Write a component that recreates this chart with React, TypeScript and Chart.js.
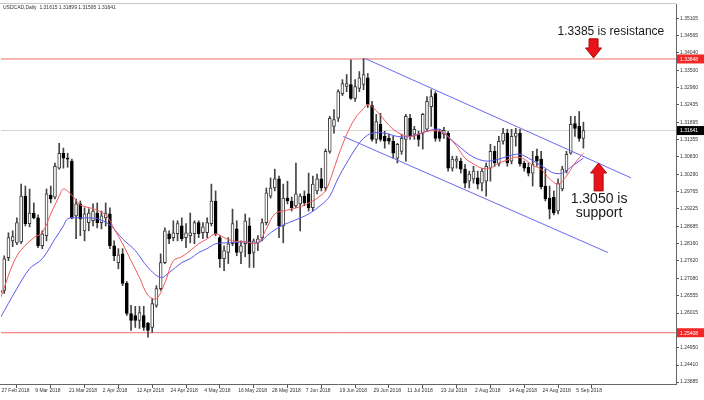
import React, { useEffect, useRef } from "react";
import { Chart, registerables } from "chart.js";
Chart.register(...registerables);

// ---------- data ----------
const xLabelBars = [0, 8, 16, 24, 32, 40, 48, 56, 64, 72, 80, 88, 96, 104, 112, 120, 128, 136];
const xLabels = [
  "27 Feb 2018", "9 Mar 2018", "21 Mar 2018", "2 Apr 2018", "12 Apr 2018", "24 Apr 2018",
  "4 May 2018", "16 May 2018", "28 May 2018", "7 Jun 2018", "19 Jun 2018", "29 Jun 2018",
  "11 Jul 2018", "23 Jul 2018", "2 Aug 2018", "14 Aug 2018", "24 Aug 2018", "5 Sep 2018",
];
const yTicks = [
  1.35105, 1.34565, 1.3404, 1.335, 1.3296, 1.32435, 1.31895, 1.31355, 1.3083, 1.3029, 1.29765,
  1.29225, 1.28685, 1.2816, 1.2762, 1.2708, 1.26555, 1.26015, 1.2495, 1.2441, 1.23885,
];

const opens = [
  1.2671, 1.2671, 1.2772, 1.2824, 1.2818, 1.2821, 1.2962, 1.2877, 1.2910, 1.2895,
  1.2809, 1.2840, 1.2965, 1.2959, 1.3048, 1.3094, 1.3079, 1.3070, 1.2901, 1.2938,
  1.2855, 1.2880, 1.2886, 1.2910, 1.2880, 1.2895, 1.2907, 1.2809, 1.2757, 1.2784,
  1.2693, 1.2600, 1.2594, 1.2579, 1.2594, 1.2570, 1.2557, 1.2625, 1.2677, 1.2757,
  1.2846, 1.2834, 1.2846, 1.2870, 1.2834, 1.2840, 1.2846, 1.2880, 1.2849, 1.2849,
  1.2877, 1.2947, 1.2834, 1.2769, 1.2788, 1.2815, 1.2861, 1.2788, 1.2815, 1.2870,
  1.2788, 1.2818, 1.2834, 1.2880, 1.2962, 1.2987, 1.3015, 1.2870, 1.2956, 1.2947,
  1.2932, 1.2938, 1.2962, 1.2969, 1.2926, 1.2978, 1.3015, 1.2987, 1.3100, 1.3177,
  1.3202, 1.3278, 1.3300, 1.3306, 1.3263, 1.3294, 1.3306, 1.3327, 1.3241, 1.3137,
  1.3183, 1.3146, 1.3140, 1.3131, 1.3079, 1.3100, 1.3137, 1.3202, 1.3153, 1.3153,
  1.3156, 1.3168, 1.3238, 1.3278, 1.3162, 1.3153, 1.3156, 1.3048, 1.3070, 1.3070,
  1.3045, 1.3008, 1.3015, 1.3018, 1.3002, 1.3008, 1.3048, 1.3100, 1.3061, 1.3131,
  1.3156, 1.3070, 1.3146, 1.3156, 1.3064, 1.3051, 1.3033, 1.3085, 1.3076, 1.2993,
  1.2956, 1.2959, 1.2916, 1.2984, 1.3039, 1.3094, 1.3186, 1.3177, 1.3140,
];
const highs = [
  1.2702, 1.2778, 1.2849, 1.2855, 1.2895, 1.2999, 1.2993, 1.2984, 1.2941, 1.2904,
  1.2855, 1.2984, 1.2993, 1.3064, 1.3125, 1.3110, 1.3094, 1.3076, 1.2953, 1.2947,
  1.2926, 1.2923, 1.2938, 1.2941, 1.2916, 1.2941, 1.2926, 1.2824, 1.2800, 1.2800,
  1.2699, 1.2625, 1.2622, 1.2622, 1.2622, 1.2573, 1.2646, 1.2686, 1.2784, 1.2864,
  1.2855, 1.2886, 1.2886, 1.2895, 1.2877, 1.2910, 1.2886, 1.2886, 1.2880, 1.2895,
  1.2999, 1.2978, 1.2840, 1.2809, 1.2834, 1.2922, 1.2886, 1.2824, 1.2907, 1.2895,
  1.2830, 1.2840, 1.2892, 1.2987, 1.3018, 1.3045, 1.3024, 1.2999, 1.3008, 1.2959,
  1.3064, 1.2969, 1.2978, 1.3033, 1.3024, 1.3030, 1.3048, 1.3107, 1.3208, 1.3229,
  1.3290, 1.3321, 1.3337, 1.3382, 1.3321, 1.3346, 1.3386, 1.3340, 1.3254, 1.3214,
  1.3217, 1.3162, 1.3153, 1.3146, 1.3125, 1.3153, 1.3214, 1.3214, 1.3177, 1.3162,
  1.3217, 1.3269, 1.3290, 1.3284, 1.3168, 1.3174, 1.3162, 1.3085, 1.3085, 1.3079,
  1.3060, 1.3039, 1.3054, 1.3039, 1.3048, 1.3064, 1.3122, 1.3116, 1.3146, 1.3171,
  1.3168, 1.3168, 1.3171, 1.3168, 1.3070, 1.3064, 1.3100, 1.3107, 1.3100, 1.3045,
  1.2993, 1.2978, 1.3015, 1.3054, 1.3100, 1.3208, 1.3208, 1.3223, 1.3190,
];
const lows = [
  1.2640, 1.2662, 1.2763, 1.2806, 1.2812, 1.2815, 1.2870, 1.2867, 1.2892, 1.2803,
  1.2800, 1.2824, 1.2941, 1.2953, 1.3045, 1.3048, 1.3051, 1.2892, 1.2831, 1.2840,
  1.2824, 1.2855, 1.2870, 1.2864, 1.2861, 1.2870, 1.2800, 1.2763, 1.2738, 1.2686,
  1.2594, 1.2548, 1.2557, 1.2554, 1.2548, 1.2527, 1.2542, 1.2619, 1.2671, 1.2754,
  1.2815, 1.2824, 1.2824, 1.2824, 1.2803, 1.2818, 1.2815, 1.2834, 1.2831, 1.2834,
  1.2870, 1.2840, 1.2742, 1.2732, 1.2754, 1.2809, 1.2778, 1.2754, 1.2775, 1.2742,
  1.2742, 1.2794, 1.2824, 1.2873, 1.2956, 1.2978, 1.2834, 1.2818, 1.2938, 1.2916,
  1.2926, 1.2855, 1.2932, 1.2916, 1.2916, 1.2969, 1.2978, 1.2978, 1.3094, 1.3156,
  1.3192, 1.3272, 1.3284, 1.3260, 1.3254, 1.3284, 1.3290, 1.3235, 1.3131, 1.3125,
  1.3131, 1.3110, 1.3122, 1.3079, 1.3064, 1.3091, 1.3070, 1.3137, 1.3137, 1.3116,
  1.3107, 1.3162, 1.3177, 1.3131, 1.3131, 1.3140, 1.3039, 1.3039, 1.3048, 1.3033,
  1.2987, 1.2987, 1.3002, 1.2984, 1.2978, 1.2962, 1.3008, 1.3054, 1.3054, 1.3122,
  1.3054, 1.3061, 1.3116, 1.3054, 1.3039, 1.3024, 1.2993, 1.3054, 1.2984, 1.2947,
  1.2892, 1.2904, 1.2907, 1.2978, 1.3033, 1.3091, 1.3146, 1.3131, 1.3110,
];
const closes = [
  1.2665, 1.2769, 1.2834, 1.2837, 1.2880, 1.2962, 1.2877, 1.2910, 1.2895, 1.2809,
  1.2846, 1.2969, 1.2953, 1.3054, 1.3094, 1.3079, 1.3076, 1.2895, 1.2938, 1.2892,
  1.2907, 1.2910, 1.2916, 1.2880, 1.2901, 1.2910, 1.2809, 1.2778, 1.2781, 1.2693,
  1.2600, 1.2579, 1.2579, 1.2603, 1.2557, 1.2548, 1.2631, 1.2677, 1.2757, 1.2855,
  1.2830, 1.2849, 1.2877, 1.2830, 1.2849, 1.2849, 1.2880, 1.2846, 1.2867, 1.2880,
  1.2947, 1.2846, 1.2769, 1.2794, 1.2815, 1.2877, 1.2788, 1.2809, 1.2886, 1.2784,
  1.2824, 1.2830, 1.2880, 1.2972, 1.2987, 1.3015, 1.2870, 1.2956, 1.2947, 1.2926,
  1.2969, 1.2962, 1.2941, 1.2926, 1.2999, 1.3015, 1.2987, 1.3100, 1.3202, 1.3198,
  1.3284, 1.3309, 1.3309, 1.3263, 1.3300, 1.3327, 1.3337, 1.3245, 1.3137, 1.3192,
  1.3137, 1.3131, 1.3131, 1.3094, 1.3122, 1.3140, 1.3208, 1.3146, 1.3168, 1.3137,
  1.3214, 1.3254, 1.3269, 1.3140, 1.3140, 1.3165, 1.3048, 1.3076, 1.3076, 1.3045,
  1.3002, 1.3030, 1.3039, 1.2999, 1.3039, 1.3054, 1.3100, 1.3064, 1.3131, 1.3156,
  1.3064, 1.3146, 1.3156, 1.3061, 1.3048, 1.3033, 1.3061, 1.3070, 1.2990, 1.2953,
  1.2922, 1.2910, 1.3002, 1.3045, 1.3091, 1.3183, 1.3171, 1.3140, 1.31641,
];

// moving averages (bar index, value)
const maRedBars = [0, 4, 8, 10, 12, 14, 15, 17, 19, 22, 25, 27, 29, 31, 33, 35, 37, 39, 41, 43, 45, 47, 49, 51, 53, 55, 58, 61, 63, 65, 68, 71, 74, 76, 77, 78, 80, 82, 84, 86, 87, 89, 91, 93, 95, 97, 99, 101, 104, 106, 108, 110, 112, 114, 116, 118, 120, 122, 124, 126, 128, 130, 132, 134, 136, 138];
const maRed = [1.2643, 1.2778, 1.2834, 1.2849, 1.2907, 1.2962, 1.2984, 1.2965, 1.2935, 1.2923, 1.2904, 1.2861, 1.2815, 1.2763, 1.2711, 1.2656, 1.2646, 1.2695, 1.2763, 1.2775, 1.2794, 1.2815, 1.2830, 1.2846, 1.2834, 1.2824, 1.2821, 1.2818, 1.2861, 1.2907, 1.2919, 1.2929, 1.2947, 1.2965, 1.2978, 1.3008, 1.3085, 1.3152, 1.3202, 1.3232, 1.3245, 1.3226, 1.3195, 1.3168, 1.3152, 1.3146, 1.3152, 1.3162, 1.3162, 1.3146, 1.3116, 1.3079, 1.3061, 1.3048, 1.3048, 1.3064, 1.3073, 1.3082, 1.3076, 1.3057, 1.3045, 1.3015, 1.2999, 1.3024, 1.3064, 1.3094];
const maBlueBars = [0, 4, 7, 10, 13, 15, 16, 19, 23, 26, 29, 32, 35, 38, 40, 43, 45, 47, 49, 51, 54, 58, 61, 64, 67, 70, 73, 76, 78, 80, 82, 84, 86, 88, 91, 94, 97, 101, 104, 106, 108, 110, 112, 115, 118, 121, 123, 125, 127, 129, 131, 133, 135, 137, 138];
const maBlue = [1.2585, 1.2677, 1.2738, 1.2769, 1.2830, 1.2870, 1.2892, 1.2895, 1.2892, 1.2873, 1.2830, 1.2794, 1.2742, 1.2711, 1.2726, 1.2757, 1.2769, 1.2788, 1.2800, 1.2815, 1.2818, 1.2821, 1.2818, 1.2849, 1.2873, 1.2889, 1.2907, 1.2935, 1.2962, 1.3018, 1.3064, 1.3107, 1.3140, 1.3156, 1.3156, 1.3146, 1.3146, 1.3162, 1.3168, 1.3143, 1.3122, 1.3100, 1.3082, 1.3070, 1.3076, 1.3088, 1.3091, 1.3079, 1.3064, 1.3048, 1.3033, 1.3033, 1.3051, 1.3070, 1.3079];

// channel trend lines (bar index, price)
const channelUpperBars = [86.4, 149.3];
const channelUpper = [1.3386, 1.3018];
const channelLowerBars = [81.2, 143.8];
const channelLower = [1.3146, 1.2788];

const resistanceLevel = 1.33848;
const supportLevel = 1.25408;
const lastPrice = 1.31641;

// annotation arrows: [bar, tail price, tip price]
const downArrow = [140.4, 1.3447, 1.3388];
const upArrow = [141.6, 1.2978, 1.3064];
const resistanceText = "1.3385 is resistance";
const resistanceTextPos = [144.5, 1.3459];
const supportLines = ["1.3050 is", "support"];
const supportTextPos = [141.7, 1.2941, 1.2897];
const titleText = "USDCAD,Daily  1.31615 1.31899 1.31595 1.31641";

const X_MIN = 0.236;
const X_MAX = 159.9;
const Y_MIN = 1.23827;
const Y_MAX = 1.35543;

export default function App() {
  const ref = useRef<HTMLCanvasElement | null>(null);
  useEffect(() => {
    const canvas = ref.current;
    if (!canvas) return;
    const bull = closes.map((c, i) => c >= opens[i]);
    const overlay = {
      id: "overlay",
      beforeDraw(chart: any) {
        const c = chart.ctx;
        c.save();
        c.fillStyle = "#ffffff";
        c.fillRect(0, 0, chart.width, chart.height);
        c.restore();
      },
      afterDraw(chart: any) {
        const c = chart.ctx as CanvasRenderingContext2D;
        const xs = chart.scales.x;
        const ys = chart.scales.y;
        const area = chart.chartArea;
        c.save();
        // top frame line
        c.strokeStyle = "#c8c8c8";
        c.lineWidth = 1;
        c.beginPath();
        c.moveTo(0, area.top - 0.5);
        c.lineTo(area.right, area.top - 0.5);
        c.stroke();
        // title
        c.fillStyle = "#333";
        c.font = '5px "Liberation Sans", Arial, sans-serif';
        c.textAlign = "left";
        c.textBaseline = "middle";
        c.fillText(titleText, 3, 8);
        // price tags
        const tags: [number, string][] = [
          [resistanceLevel, "#f02828"],
          [lastPrice, "#000000"],
          [supportLevel, "#f02828"],
        ];
        tags.forEach(([v, bg]) => {
          const y = ys.getPixelForValue(v);
          c.fillStyle = bg;
          c.fillRect(area.right + 1, y - 4.5, 27, 9);
          c.fillStyle = "#ffffff";
          c.font = '5px "Liberation Sans", Arial, sans-serif';
          c.textAlign = "left";
          c.textBaseline = "middle";
          c.fillText(v.toFixed(5), area.right + 4, y + 0.5);
        });
        // arrows
        const drawArrow = (a: number[]) => {
          const x = xs.getPixelForValue(a[0]);
          const yTail = ys.getPixelForValue(a[1]);
          const yTip = ys.getPixelForValue(a[2]);
          const dir = yTip > yTail ? 1 : -1;
          const headLen = 10;
          const sw = 4.5;
          const hw = 8;
          const yHead = yTip - dir * headLen;
          c.beginPath();
          c.moveTo(x - sw, yTail);
          c.lineTo(x + sw, yTail);
          c.lineTo(x + sw, yHead);
          c.lineTo(x + hw, yHead);
          c.lineTo(x, yTip);
          c.lineTo(x - hw, yHead);
          c.lineTo(x - sw, yHead);
          c.closePath();
          c.fillStyle = "#e8141b";
          c.fill();
          c.strokeStyle = "#b00a0a";
          c.lineWidth = 1;
          c.stroke();
        };
        drawArrow(downArrow);
        drawArrow(upArrow);
        // texts
        c.fillStyle = "#1a1a1a";
        c.font = '12px "Liberation Sans", Arial, sans-serif';
        c.textBaseline = "alphabetic";
        c.textAlign = "center";
        c.fillText(resistanceText, xs.getPixelForValue(resistanceTextPos[0]), ys.getPixelForValue(resistanceTextPos[1]));
        c.font = '14px "Liberation Sans", Arial, sans-serif';
        c.textAlign = "center";
        const sx = xs.getPixelForValue(supportTextPos[0]);
        c.fillText(supportLines[0], sx, ys.getPixelForValue(supportTextPos[1]));
        c.fillText(supportLines[1], sx, ys.getPixelForValue(supportTextPos[2]));
        c.restore();
      },
    };

    const hline = (v: number) => [
      { x: X_MIN, y: v },
      { x: X_MAX, y: v },
    ];

    const chart = new Chart(canvas, {
      type: "bar",
      data: {
        datasets: [
          {
            type: "line",
            data: maRedBars.map((b, i) => ({ x: b, y: maRed[i] })),
            borderColor: "#f25a5a",
            borderWidth: 1,
            pointRadius: 0,
            tension: 0.35,
            order: 0,
          } as any,
          {
            type: "line",
            data: maBlueBars.map((b, i) => ({ x: b, y: maBlue[i] })),
            borderColor: "#5a5af0",
            borderWidth: 1,
            pointRadius: 0,
            tension: 0.35,
            order: 0,
          } as any,
          {
            type: "line",
            data: channelUpperBars.map((b, i) => ({ x: b, y: channelUpper[i] })),
            borderColor: "#6a6aee",
            borderWidth: 1,
            pointRadius: 0,
            order: 0,
          } as any,
          {
            type: "line",
            data: channelLowerBars.map((b, i) => ({ x: b, y: channelLower[i] })),
            borderColor: "#6a6aee",
            borderWidth: 1,
            pointRadius: 0,
            order: 0,
          } as any,
          {
            type: "line",
            data: hline(resistanceLevel),
            borderColor: "#f06a6a",
            borderWidth: 1,
            pointRadius: 0,
            order: 5,
          } as any,
          {
            type: "line",
            data: hline(supportLevel),
            borderColor: "#f06a6a",
            borderWidth: 1,
            pointRadius: 0,
            order: 5,
          } as any,
          {
            type: "line",
            data: hline(lastPrice),
            borderColor: "#d4d4d4",
            borderWidth: 1,
            pointRadius: 0,
            order: 6,
          } as any,
          {
            type: "bar",
            data: opens.map((o, i) => ({ x: i, y: [o, closes[i]] })),
            backgroundColor: bull.map((b) => (b ? "#ffffff" : "#000000")),
            borderColor: bull.map((b) => (b ? "#3a3a3a" : "#000000")),
            borderWidth: 1,
            borderSkipped: false,
            barThickness: 3,
            minBarLength: 1,
            grouped: false,
            order: 2,
          } as any,
          {
            type: "bar",
            data: lows.map((l, i) => ({ x: i, y: [l, highs[i]] })),
            backgroundColor: "#444444",
            borderWidth: 0,
            barThickness: 1,
            grouped: false,
            order: 3,
          } as any,
        ],
      },
      options: {
        responsive: false,
        animation: false,
        events: [],
        devicePixelRatio: 1,
        layout: { padding: { top: 2, left: 0, right: 0, bottom: 0 } },
        plugins: { legend: { display: false }, tooltip: { enabled: false } },
        scales: {
          x: {
            type: "linear",
            min: X_MIN,
            max: X_MAX,
            bounds: "data",
            offset: false,
            afterBuildTicks: (s: any) => {
              s.ticks = xLabelBars.map((v) => ({ value: v }));
            },
            afterFit: (s: any) => {
              s.height = 16;
            },
            grid: { drawOnChartArea: false, drawTicks: true, tickLength: 4, color: "#555" },
            border: { display: true, color: "#666" },
            ticks: {
              autoSkip: false,
              maxRotation: 0,
              minRotation: 0,
              align: "start",
              padding: 0,
              color: "#333",
              font: { size: 5, family: '"Liberation Sans", Arial, sans-serif' },
              callback: (v: any) => {
                const k = xLabelBars.indexOf(Number(v));
                return k >= 0 ? " " + xLabels[k] : "";
              },
            },
          } as any,
          y: {
            type: "linear",
            position: "right",
            min: Y_MIN,
            max: Y_MAX,
            bounds: "data",
            afterBuildTicks: (s: any) => {
              s.ticks = yTicks.map((v) => ({ value: v }));
            },
            afterFit: (s: any) => {
              s.width = 28;
            },
            grid: { drawOnChartArea: false, drawTicks: true, tickLength: 3, color: "#555" },
            border: { display: true, color: "#666" },
            ticks: {
              autoSkip: false,
              padding: 1,
              color: "#333",
              font: { size: 5, family: '"Liberation Sans", Arial, sans-serif' },
              callback: (v: any) => Number(v).toFixed(5),
            },
          } as any,
        },
      },
      plugins: [overlay as any],
    });
    return () => chart.destroy();
  }, []);
  return (
    <div style={{ position: "fixed", left: 0, top: 0, width: 704, height: 400, background: "#fff" }}>
      <canvas ref={ref} width={704} height={400} style={{ width: 704, height: 400, display: "block" }} />
    </div>
  );
}
